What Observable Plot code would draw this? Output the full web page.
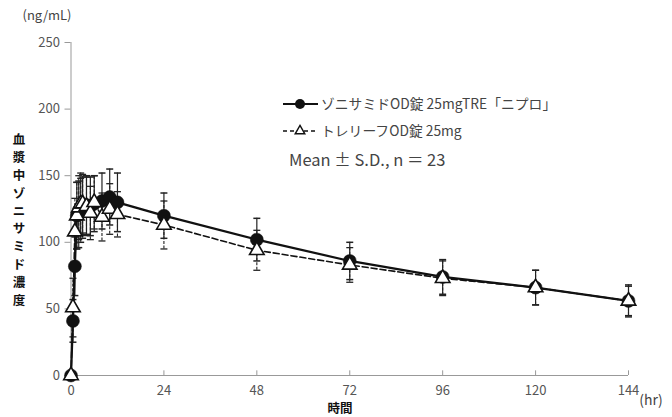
<!DOCTYPE html>
<html>
<head>
<meta charset="utf-8">
<script src="https://cdn.jsdelivr.net/npm/d3@7"></script>
<script src="https://cdn.jsdelivr.net/npm/@observablehq/plot@0.6"></script>
<style>
  html, body { margin: 0; padding: 0; background: #fff; }
  #chart { width: 672px; height: 417px; }
</style>
</head>
<body>
<div id="chart"></div>
<script>
// Sampling times (hr)
const times = [0, 0.5, 1, 1.5, 2, 2.5, 3, 4, 5, 6, 8, 10, 12, 24, 48, 72, 96, 120, 144];
// ゾニサミドOD錠25mgTRE「ニプロ」 mean and SD (ng/mL)
const treMean = [0, 41, 82, 120, 121, 124, 126, 128, 127, 129, 131, 134, 130, 120, 102, 86, 74, 66, 56];
const treSD   = [0, 16, 22, 25, 25, 24, 23, 22, 22, 21, 21, 21, 22, 17, 16, 14, 13, 13, 12];
// トレリーフOD錠25mg mean and SD (ng/mL)
const refMean = [0, 51, 108, 120, 126, 129, 129, 127, 122, 130, 119, 125, 121, 113, 94, 83, 73, 66, 56];
const refSD   = [0, 22, 25, 25, 24, 23, 22, 22, 20, 20, 18, 19, 17, 18, 15, 13, 13, 13, 11];

const yTicks = [0, 50, 100, 150, 200, 250];
const xTicks = [0, 24, 48, 72, 96, 120, 144];

const legendLabels = ["ゾニサミドOD錠 25mgTRE「ニプロ」", "トレリーフOD錠 25mg"];
const noteText = "Mean ± S.D., n ＝ 23";
const yLabelText = "血漿中ゾニサミド濃度";
const xLabelText = "時間";
const yUnit = "(ng/mL)";
const xUnit = "(hr)";

const A = times.map((t, i) => ({t, m: treMean[i], sd: treSD[i]}));
const B = times.map((t, i) => ({t, m: refMean[i], sd: refSD[i]}));

const capSymbol = { draw(ctx, size) { ctx.moveTo(-3.5, 0); ctx.lineTo(3.5, 0); } };
const FONT = "'Noto Sans CJK JP', 'Noto Sans', sans-serif";

const plot = Plot.plot({
  width: 672,
  height: 417,
  marginLeft: 70.5,
  marginRight: 44,
  marginTop: 42,
  marginBottom: 42,
  style: { fontFamily: FONT, fontSize: "13px", color: "#555", background: "#fff" },
  x: { domain: [0, 144] },
  y: { domain: [0, 250] },
  marks: [
    Plot.ruleY([0], { x1: 0, x2: 144, stroke: "#999", strokeWidth: 1 }),
    Plot.ruleX([0], { y1: 0, y2: 250, stroke: "#999", strokeWidth: 1 }),
    Plot.ruleX(xTicks.slice(1), { y1: 0, y2: 3.5, stroke: "#999" }),
    Plot.axisY({ ticks: yTicks, tickSize: 6, tickPadding: 5, label: null, stroke: "#999", fill: "#555", fontSize: 13 }),
    Plot.axisX({ ticks: xTicks, tickSize: 0, tickPadding: 10, label: null, fill: "#555", fontSize: 13 }),
    // reference product error bars (dashed)
    Plot.ruleX(B, { x: "t", y1: d => d.m - d.sd, y2: d => d.m + d.sd, stroke: "#222", strokeWidth: 1.1, strokeDasharray: "3,1.5" }),
    Plot.dot(B, { x: "t", y: d => d.m + d.sd, symbol: capSymbol, stroke: "#222", strokeWidth: 1.3, fill: "none", r: 3 }),
    Plot.dot(B, { x: "t", y: d => d.m - d.sd, symbol: capSymbol, stroke: "#222", strokeWidth: 1.3, fill: "none", r: 3 }),
    // test product error bars (solid)
    Plot.ruleX(A, { x: "t", y1: d => d.m - d.sd, y2: d => d.m + d.sd, stroke: "#222", strokeWidth: 1.2 }),
    Plot.dot(A, { x: "t", y: d => d.m + d.sd, symbol: capSymbol, stroke: "#222", strokeWidth: 1.5, fill: "none", r: 3 }),
    Plot.dot(A, { x: "t", y: d => d.m - d.sd, symbol: capSymbol, stroke: "#222", strokeWidth: 1.5, fill: "none", r: 3 }),
    // lines
    Plot.line(B, { x: "t", y: "m", stroke: "#111", strokeWidth: 1.6, strokeDasharray: "6,3" }),
    Plot.line(A, { x: "t", y: "m", stroke: "#111", strokeWidth: 2.2 }),
    // markers
    Plot.dot(A, { x: "t", y: "m", r: 6.5, fill: "#111", stroke: "#111", strokeWidth: 0.5 }),
    Plot.dot(B, { x: "t", y: "m", r: 5.4, symbol: "triangle", fill: "#fff", stroke: "#111", strokeWidth: 1.6 })
  ]
});

const svg = d3.select(plot);
const g = svg.append("g").attr("font-family", FONT).attr("text-anchor", "start");

// legend
g.append("line").attr("x1", 283).attr("x2", 318).attr("y1", 104).attr("y2", 104).attr("stroke", "#111").attr("stroke-width", 2);
g.append("circle").attr("cx", 300).attr("cy", 104).attr("r", 5).attr("fill", "#111");
g.append("text").attr("x", 321).attr("y", 104).attr("dy", "0.35em").attr("text-anchor", "start").attr("font-size", 13.8).attr("fill", "#444").text(legendLabels[0]);

g.append("line").attr("x1", 283).attr("x2", 318).attr("y1", 131).attr("y2", 131).attr("stroke", "#111").attr("stroke-width", 1.6).attr("stroke-dasharray", "4,3");
g.append("path").attr("d", d3.symbol(d3.symbolTriangle, 40)()).attr("transform", "translate(300,131)").attr("fill", "#fff").attr("stroke", "#111").attr("stroke-width", 1.4);
g.append("text").attr("x", 321).attr("y", 131).attr("dy", "0.35em").attr("text-anchor", "start").attr("font-size", 13.8).attr("fill", "#444").text(legendLabels[1]);

g.append("text").attr("x", 289).attr("y", 160).attr("dy", "0.35em").attr("text-anchor", "start").attr("font-size", 16.5).attr("fill", "#444").text(noteText);

// axis titles
g.append("text").attr("x", 47).attr("y", 15).attr("dy", "0.35em").attr("text-anchor", "middle").attr("font-size", 13).attr("fill", "#444").text(yUnit);
g.append("text").attr("x", 651).attr("y", 400).attr("dy", "0.35em").attr("text-anchor", "middle").attr("font-size", 14).attr("fill", "#444").text(xUnit);
g.append("text").attr("x", 340).attr("y", 409).attr("dy", "0.35em").attr("text-anchor", "middle").attr("font-size", 12.5).attr("font-weight", "bold").attr("fill", "#111").text(xLabelText);
Array.from(yLabelText).forEach((ch, i) => {
  g.append("text").attr("x", 19).attr("y", 140 + i * 17.8).attr("dy", "0.35em").attr("text-anchor", "middle")
    .attr("font-size", 12.5).attr("font-weight", "bold").attr("fill", "#111").text(ch);
});

document.getElementById("chart").appendChild(plot);
</script>
</body>
</html>
